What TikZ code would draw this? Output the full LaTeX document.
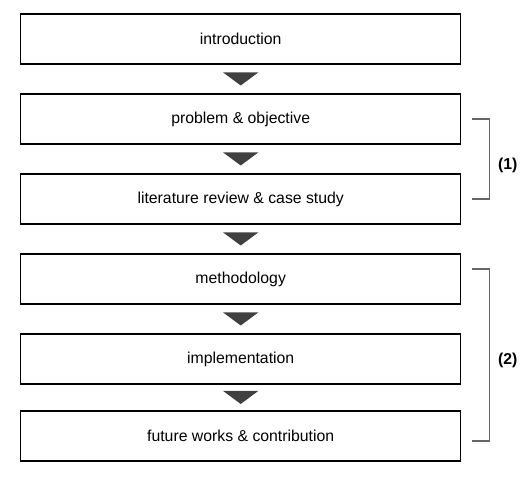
\documentclass[tikz,border=0pt]{standalone}
\usepackage{fontspec}
\setmainfont{Liberation Sans}
\usetikzlibrary{positioning,calc}

\tikzset{
  stage/.style={draw=black, line width=1.3pt, minimum width=440pt, minimum height=50pt,
    inner sep=0pt, font=\fontsize{15.8}{18}\selectfont},
  tri/.style={fill=black!75},
  bracket/.style={draw=black!60, line width=1.3pt},
  part/.style={anchor=west, font=\fontsize{15.8}{18}\selectfont\bfseries}
}

\begin{document}
\begin{tikzpicture}[x=1pt, y=-1pt]
        \useasboundingbox (0,0) rectangle (520,481);
        \node[stage] (intro) at (240.7, 39) {introduction};
        \node[stage] (problem) at (240.7, 119) {problem \& objective};
        \node[stage] (review) at (240.7, 199) {literature review \& case study};
        \node[stage] (method) at (240.7, 279) {methodology};
        \node[stage] (impl) at (240.7, 359) {implementation};
        \node[stage] (future) at (240.7, 436) {future works \& contribution};
        \foreach \a/\b in {intro/problem, problem/review, review/method, method/impl, impl/future}
            \fill[tri] ($(\a.south)!0.5!(\b.north) + (-17.5, -6.5)$) -- ++(35, 0) -- ++(-17.5, 13) -- cycle;
        \draw[bracket] ([xshift=10.3pt]problem.east) -- ++(18, 0) coordinate (b1)
            |- ([xshift=10.3pt]review.east);
        \draw[bracket] ([xshift=10.3pt, yshift=10pt]method.east) -- ++(18, 0) coordinate (b2)
            |- ([xshift=10.3pt, yshift=-5pt]future.east);
        \node[part] (one) at ($(b1 |- problem.east)!0.5!(b1 |- review.east) + (5, 6)$) {(1)};
        \node[part] (two) at ($(b2)!0.5!(b2 |- future.east) + (5, 8)$) {(2)};
    \end{tikzpicture}
\end{document}
